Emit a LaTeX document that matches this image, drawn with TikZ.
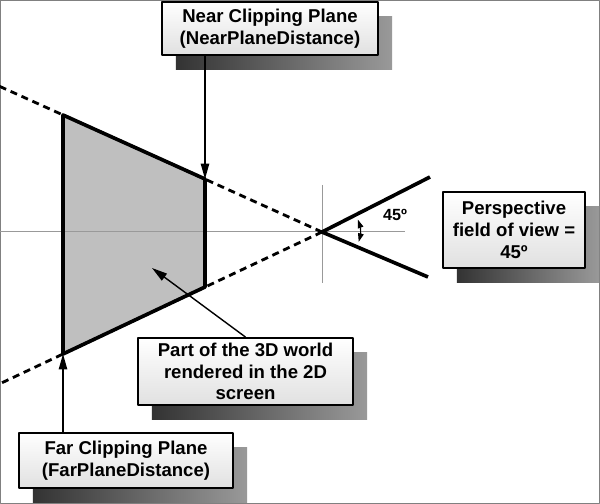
\documentclass[tikz,border=0pt]{standalone}
\usepackage{fontspec}
\setmainfont{Liberation Sans}
\usetikzlibrary{arrows.meta,shadows,calc}
\begin{document}
\begin{tikzpicture}[x=0.025cm,y=-0.025cm,line join=round,>={Triangle[length=11pt,width=6pt]},
	box/.style={draw,line width=1.3pt,top color=white,bottom color=black!12,align=center,inner sep=0pt,
		font=\bfseries\fontsize{13.2}{15.4}\selectfont,
		drop shadow={shadow xshift=0.35cm,shadow yshift=-0.37cm,opacity=1,left color=black!80,right color=black!40}},
	guide/.style={black!40,line width=0.4pt},
	ray/.style={line width=2pt,dash pattern=on 5pt off 3.5pt},
	frustum/.style={line width=2.6pt},
	pointer/.style={->,line width=1pt}]
	\useasboundingbox (0,0) rectangle (600,504);
	\draw[black!50,line width=1pt] (0.7,0.7) rectangle (599.3,503.3); % frame
	% eye and frustum corners
	\coordinate (eye) at (322,232);
	\coordinate (ftop) at (63,115); \coordinate (ntop) at (205,179);
	\coordinate (nbot) at (205,287); \coordinate (fbot) at (63,354);
	\coordinate (rtop) at (430,177); \coordinate (rbot) at (428,277);
	\coordinate (ltop) at ($(eye)!1.25!(ftop)$); \coordinate (lbot) at ($(eye)!1.25!(fbot)$);
	\fill[black!25] (ftop) -- (ntop) -- (nbot) -- (fbot) -- cycle;
	\draw[guide] (0,231) -- (405,231);
	\draw[guide] (322,185) -- (322,283);
	\draw[ray] (eye) -- (ltop);
	\draw[ray] (eye) -- (lbot);
	\draw[frustum] (ftop) -- (ntop) -- (nbot) -- (fbot) -- cycle;
	\draw[frustum] (rtop) -- (eye) -- (rbot);
	\draw[<->,>={Triangle[length=6pt,width=4pt]},line width=0.8pt] (eye) ++(-19:38) arc[start angle=-19,end angle=15,radius=38];
	\node[font=\bfseries\fontsize{11.5}{13}\selectfont] (fov) at (395,215) {45º};
	% labels
	\node[box,minimum width=5.4cm,minimum height=1.33cm] (near) at (270,28.5) {Near Clipping Plane\\(NearPlaneDistance)};
	\node[box,minimum width=5.35cm,minimum height=1.375cm] (far) at (126,460.5) {Far Clipping Plane\\(FarPlaneDistance)};
	\node[box,minimum width=5.375cm,minimum height=1.675cm] (part) at (245.5,371.5) {Part of the 3D world\\rendered in the 2D\\screen};
	\node[box,minimum width=3.55cm,minimum height=1.9cm] (persp) at (514,230) {Perspective\\field of view =\\45º};
	\coordinate (inside) at (152,268);
	\draw[pointer] (near.south -| ntop) -- (ntop);
	\draw[pointer] (far.north -| fbot) -- (fbot);
	\draw[pointer] (part.north) -- (inside);
\end{tikzpicture}
\end{document}
